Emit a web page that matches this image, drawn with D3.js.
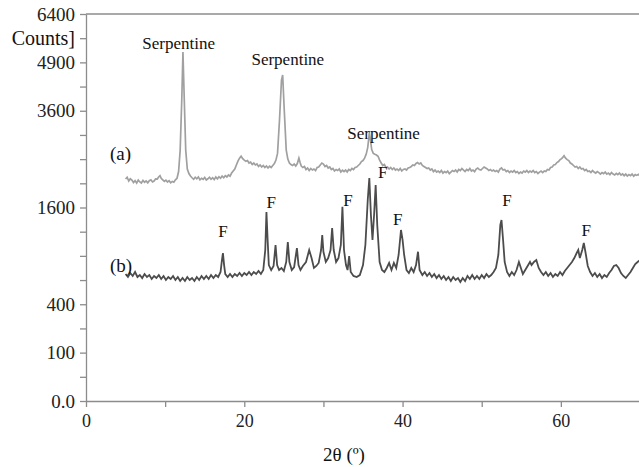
<!DOCTYPE html>
<html>
<head>
<meta charset="utf-8">
<script src="https://cdn.jsdelivr.net/npm/d3@7"></script>
<style>
  body { margin: 0; background: #fff; }
  text { font-family: "Liberation Serif", "Times New Roman", serif; fill: #111; }
</style>
</head>
<body>
<div id="chart"></div>
<script>
// 2theta (deg) / counts
const patternA = [
  [5.0,2106],[5.2,2140],[5.4,2068],[5.6,2110],[5.8,2087],[6.0,2040],[6.2,2075],[6.4,2030],[6.6,2087],
  [6.8,2050],[7.0,2031],[7.2,2080],[7.4,2045],[7.6,2070],[7.8,2035],[8.0,2075],[8.2,2090],[8.4,2050],
  [8.6,2068],[8.8,2110],[9.0,2106],[9.2,2150],[9.35,2170],[9.5,2120],[9.7,2090],[9.9,2060],[10.1,2085],
  [10.3,2050],[10.5,2075],[10.7,2035],[10.9,2060],[11.1,2045],[11.3,2090],[11.5,2120],[11.7,2250],
  [11.9,2690],[12.1,3872],[12.25,5205],[12.4,4001],[12.6,2690],[12.8,2300],[13.0,2210],[13.2,2163],
  [13.4,2130],[13.6,2100],[13.8,2140],[14.0,2110],[14.2,2145],[14.4,2090],[14.6,2120],[14.8,2100],
  [15.0,2135],[15.2,2087],[15.4,2110],[15.6,2140],[15.8,2100],[16.0,2130],[16.2,2095],[16.4,2144],
  [16.6,2110],[16.8,2150],[17.0,2120],[17.2,2163],[17.4,2130],[17.6,2170],[17.8,2145],[18.0,2183],
  [18.2,2160],[18.4,2220],[18.6,2260],[18.8,2300],[19.0,2380],[19.2,2460],[19.4,2520],[19.6,2560],
  [19.8,2510],[20.0,2480],[20.2,2455],[20.4,2470],[20.6,2420],[20.8,2440],[21.0,2390],[21.2,2420],
  [21.4,2380],[21.6,2400],[21.8,2350],[22.0,2380],[22.2,2340],[22.4,2370],[22.6,2330],[22.8,2360],
  [23.0,2320],[23.2,2355],[23.4,2330],[23.6,2370],[23.8,2410],[24.0,2480],[24.2,2620],[24.45,3374],
  [24.7,4403],[24.85,4541],[25.05,3619],[25.3,2690],[25.5,2500],[25.7,2420],[25.9,2390],[26.1,2370],
  [26.3,2400],[26.5,2360],[26.7,2410],[26.9,2520],[27.05,2430],[27.2,2360],[27.4,2330],[27.6,2350],
  [27.8,2290],[28.0,2320],[28.2,2270],[28.4,2310],[28.6,2280],[28.8,2300],[29.0,2270],[29.2,2330],
  [29.4,2340],[29.6,2380],[29.8,2420],[30.0,2400],[30.2,2350],[30.4,2370],[30.6,2320],[30.8,2340],
  [31.0,2290],[31.2,2310],[31.4,2260],[31.6,2290],[31.8,2270],[32.0,2300],[32.2,2241],[32.4,2275],
  [32.6,2250],[32.8,2280],[33.0,2240],[33.2,2290],[33.4,2270],[33.6,2310],[33.8,2290],[34.0,2330],
  [34.2,2340],[34.4,2370],[34.6,2400],[34.8,2450],[35.0,2470],[35.2,2520],[35.4,2600],[35.6,2750],
  [35.8,3069],[35.95,2900],[36.1,2700],[36.3,2620],[36.5,2600],[36.7,2586],[36.9,2560],[37.1,2480],
  [37.3,2420],[37.5,2370],[37.7,2390],[37.9,2330],[38.1,2340],[38.3,2300],[38.5,2330],[38.7,2290],
  [38.9,2320],[39.1,2280],[39.3,2300],[39.5,2270],[39.7,2310],[39.9,2260],[40.1,2290],[40.3,2300],
  [40.5,2280],[40.7,2320],[40.9,2330],[41.1,2350],[41.3,2380],[41.5,2370],[41.7,2410],[41.9,2430],
  [42.1,2400],[42.3,2420],[42.5,2370],[42.7,2350],[42.9,2330],[43.1,2310],[43.3,2320],[43.5,2280],
  [43.7,2300],[43.9,2250],[44.1,2280],[44.3,2240],[44.5,2260],[44.7,2230],[44.9,2270],[45.1,2220],
  [45.3,2250],[45.5,2230],[45.7,2260],[45.9,2210],[46.1,2240],[46.3,2270],[46.5,2250],[46.7,2280],
  [46.9,2240],[47.1,2290],[47.3,2270],[47.5,2310],[47.7,2280],[47.9,2250],[48.1,2290],[48.3,2270],
  [48.5,2310],[48.7,2260],[48.9,2280],[49.1,2250],[49.3,2300],[49.5,2320],[49.7,2290],[49.9,2280],
  [50.1,2310],[50.3,2340],[50.5,2320],[50.7,2300],[50.9,2270],[51.1,2290],[51.3,2260],[51.5,2280],
  [51.7,2250],[51.9,2270],[52.1,2240],[52.3,2300],[52.5,2320],[52.7,2280],[52.9,2290],[53.1,2250],
  [53.3,2270],[53.5,2230],[53.7,2260],[53.9,2240],[54.1,2270],[54.3,2230],[54.5,2250],[54.7,2210],
  [54.9,2240],[55.1,2220],[55.3,2260],[55.5,2240],[55.7,2270],[55.9,2230],[56.1,2260],[56.3,2240],
  [56.5,2270],[56.7,2230],[56.9,2250],[57.1,2210],[57.3,2240],[57.5,2260],[57.7,2230],[57.9,2260],
  [58.1,2250],[58.3,2290],[58.5,2280],[58.7,2330],[58.9,2340],[59.1,2380],[59.3,2390],[59.5,2430],
  [59.7,2450],[59.9,2490],[60.1,2510],[60.25,2540],[60.4,2570],[60.6,2520],[60.8,2490],[61.0,2470],
  [61.2,2420],[61.4,2400],[61.6,2370],[61.8,2340],[62.0,2350],[62.2,2310],[62.4,2340],[62.6,2300],
  [62.8,2310],[63.0,2270],[63.2,2290],[63.4,2250],[63.6,2260],[63.8,2230],[64.0,2270],[64.2,2240],
  [64.4,2220],[64.6,2250],[64.8,2230],[65.0,2200],[65.2,2230],[65.4,2210],[65.6,2240],[65.8,2200],
  [66.0,2220],[66.2,2190],[66.4,2230],[66.6,2200],[66.8,2183],[67.0,2215],[67.2,2190],[67.4,2220],
  [67.6,2180],[67.8,2205],[68.0,2170],[68.2,2200],[68.4,2163],[68.6,2190],[68.8,2170],[69.0,2200],
  [69.2,2160],[69.4,2190],[69.6,2175],[69.8,2195],[70.0,2163]
];

const patternB = [
  [5.0,689],[5.3,657],[5.6,700],[5.9,668],[6.2,711],[6.5,657],[6.8,678],[7.1,646],[7.4,689],
  [7.7,657],[8.0,678],[8.3,636],[8.6,668],[8.9,646],[9.2,678],[9.5,636],[9.8,668],[10.1,626],
  [10.4,657],[10.7,636],[11.0,668],[11.3,626],[11.6,657],[11.9,615],[12.2,646],[12.5,615],
  [12.8,657],[13.1,626],[13.4,646],[13.7,615],[14.0,657],[14.3,626],[14.6,668],[14.9,636],
  [15.2,668],[15.5,636],[15.8,678],[16.1,646],[16.4,678],[16.7,657],[17.0,711],[17.15,826],
  [17.3,936],[17.45,790],[17.6,689],[17.9,657],[18.2,689],[18.5,657],[18.8,689],[19.1,668],
  [19.4,700],[19.7,668],[20.0,700],[20.3,678],[20.6,711],[20.9,678],[21.2,711],[21.5,689],
  [21.8,722],[22.1,689],[22.4,733],[22.65,974],[22.8,1526],[22.95,1108],[23.1,790],[23.4,733],
  [23.7,779],[23.95,1040],[24.15,790],[24.4,733],[24.7,756],[25.0,722],[25.3,826],[25.5,1080],
  [25.7,826],[26.0,733],[26.3,767],[26.65,1000],[26.85,790],[27.1,733],[27.4,779],[27.8,826],
  [28.2,974],[28.5,874],[28.8,756],[29.1,779],[29.4,814],[29.7,974],[29.85,1178],[30.0,952],
  [30.3,826],[30.6,873],[30.9,974],[31.1,1279],[31.3,974],[31.6,826],[31.9,873],[32.2,1040],
  [32.4,1613],[32.6,974],[32.85,790],[33.05,733],[33.25,898],[33.45,711],[33.8,668],[34.2,657],
  [34.6,678],[35.0,790],[35.3,1040],[35.6,1726],[35.8,2125],[36.0,1478],[36.2,1108],[36.4,1478],
  [36.6,1994],[36.8,1324],[37.1,826],[37.4,733],[37.7,711],[38.0,756],[38.3,814],[38.6,733],
  [38.9,814],[39.2,756],[39.5,911],[39.8,1250],[40.0,1108],[40.2,911],[40.5,733],[40.8,700],
  [41.1,756],[41.4,711],[41.7,790],[41.95,952],[42.15,733],[42.5,678],[42.8,711],[43.1,668],
  [43.4,700],[43.7,657],[44.0,689],[44.3,646],[44.6,678],[44.9,636],[45.2,668],[45.5,626],
  [45.8,657],[46.1,615],[46.4,657],[46.7,626],[47.0,646],[47.3,605],[47.6,646],[47.9,615],
  [48.2,668],[48.5,636],[48.8,678],[49.1,636],[49.4,668],[49.7,636],[50.0,678],[50.3,646],
  [50.6,689],[50.9,657],[51.2,678],[51.5,711],[51.8,756],[52.1,911],[52.35,1324],[52.5,1400],
  [52.7,1108],[52.9,826],[53.2,711],[53.5,668],[53.8,711],[54.1,678],[54.4,733],[54.7,826],
  [54.95,756],[55.2,689],[55.5,733],[55.8,779],[56.1,826],[56.3,790],[56.6,826],[56.9,850],
  [57.2,756],[57.5,711],[57.8,678],[58.1,711],[58.4,668],[58.7,700],[59.0,657],[59.3,689],
  [59.6,668],[59.9,711],[60.2,678],[60.5,722],[60.8,756],[61.1,790],[61.4,826],[61.7,873],
  [62.0,936],[62.2,974],[62.4,873],[62.7,974],[62.9,1067],[63.1,952],[63.4,779],[63.7,711],
  [64.0,668],[64.3,700],[64.6,657],[64.9,689],[65.2,646],[65.5,678],[65.8,657],[66.1,700],
  [66.4,733],[66.7,779],[67.0,790],[67.3,756],[67.6,700],[67.9,668],[68.2,646],[68.5,678],
  [68.8,711],[69.1,756],[69.4,802],[69.7,826],[70.0,850]
];

const xTicks = [0, 10, 20, 30, 40, 50, 60, 70];
const xTickLabels = {0: "0", 20: "20", 40: "40", 60: "60"};
const yTicks = [0, 25, 100, 225, 400, 625, 900, 1225, 1600, 2025, 2500, 3025, 3600, 4225, 4900, 5625, 6400];
const yTickLabels = {0: "0.0", 100: "100", 400: "400", 1600: "1600", 3600: "3600", 4900: "4900", 6400: "6400"};

// peak annotations: [2theta, counts at label baseline, text]
const serpLabels = [[11.7, 5295, "Serpentine"], [25.5, 4824, "Serpentine"], [37.6, 2933, "Serpentine"]];
const fLabels = [[17.3, 1150, "F"], [23.4, 1600, "F"], [33.1, 1620, "F"], [37.5, 2130, "F"],
                 [39.4, 1330, "F"], [53.2, 1620, "F"], [63.2, 1160, "F"]];

const width = 639, height = 467;
const margin = {top: 14, right: 0, bottom: 66, left: 86};

const svg = d3.select("#chart").append("svg")
    .attr("width", width)
    .attr("height", height);

const x = d3.scaleLinear().domain([0, 70]).range([margin.left, 640]);
const y = d3.scaleSqrt().domain([0, 6400]).range([height - margin.bottom, margin.top]);

const axisColor = "#8c8c8c";
const serif = "'Liberation Serif', 'Times New Roman', serif";

// frame top line
svg.append("line")
    .attr("x1", x(0)).attr("x2", x(70))
    .attr("y1", y(6400)).attr("y2", y(6400))
    .attr("stroke", axisColor).attr("stroke-width", 1.3);

const xAxis = svg.append("g")
    .attr("transform", `translate(0,${y(0)})`)
    .call(d3.axisBottom(x).tickValues(xTicks).tickSize(6).tickSizeOuter(0)
        .tickFormat(d => xTickLabels[d] || ""))
    .attr("font-family", serif);
xAxis.select(".domain").attr("stroke", axisColor).attr("stroke-width", 1.3);
xAxis.selectAll(".tick line").attr("stroke", axisColor).attr("stroke-width", 1.3);
xAxis.selectAll(".tick text")
    .attr("font-size", 18).attr("dy", "0.95em")
    .style("font-family", serif).style("fill", "#222");

const yAxis = svg.append("g")
    .attr("transform", `translate(${x(0)},0)`)
    .call(d3.axisLeft(y).tickValues(yTicks).tickSize(6).tickSizeOuter(0)
        .tickFormat(d => yTickLabels[d] || ""))
    .attr("font-family", serif);
yAxis.select(".domain").attr("stroke", axisColor).attr("stroke-width", 1.3);
yAxis.selectAll(".tick line").attr("stroke", axisColor).attr("stroke-width", 1.3);
yAxis.selectAll(".tick text")
    .attr("font-size", 19).attr("x", -11)
    .style("font-family", serif).style("fill", "#222");

svg.append("text")
    .attr("x", x(0) - 11).attr("y", y(5625))
    .attr("dy", "0.32em").attr("text-anchor", "end")
    .attr("font-size", 20)
    .text("Counts]");

svg.append("text")
    .attr("x", 344).attr("y", 461)
    .attr("text-anchor", "middle")
    .attr("font-size", 19)
    .text("2θ (º)");

const line = d3.line()
    .x(d => x(d[0]))
    .y(d => y(d[1]));

svg.append("path")
    .datum(patternA)
    .attr("fill", "none")
    .attr("stroke", "#a0a0a0")
    .attr("stroke-width", 1.7)
    .attr("d", line);

svg.append("path")
    .datum(patternB)
    .attr("fill", "none")
    .attr("stroke", "#4c4c4c")
    .attr("stroke-width", 1.8)
    .attr("d", line);

svg.append("text")
    .attr("x", 110).attr("y", y(2480))
    .attr("font-size", 19)
    .text("(a)");

svg.append("text")
    .attr("x", 110).attr("y", y(715))
    .attr("font-size", 19)
    .text("(b)");

svg.selectAll(".serp")
    .data(serpLabels)
    .enter().append("text")
    .attr("class", "serp")
    .attr("x", d => x(d[0]))
    .attr("y", d => y(d[1]))
    .attr("text-anchor", "middle")
    .attr("font-size", 17)
    .text(d => d[2]);

svg.selectAll(".flab")
    .data(fLabels)
    .enter().append("text")
    .attr("class", "flab")
    .attr("x", d => x(d[0]))
    .attr("y", d => y(d[1]))
    .attr("text-anchor", "middle")
    .attr("font-size", 17)
    .text(d => d[2]);
</script>
</body>
</html>
